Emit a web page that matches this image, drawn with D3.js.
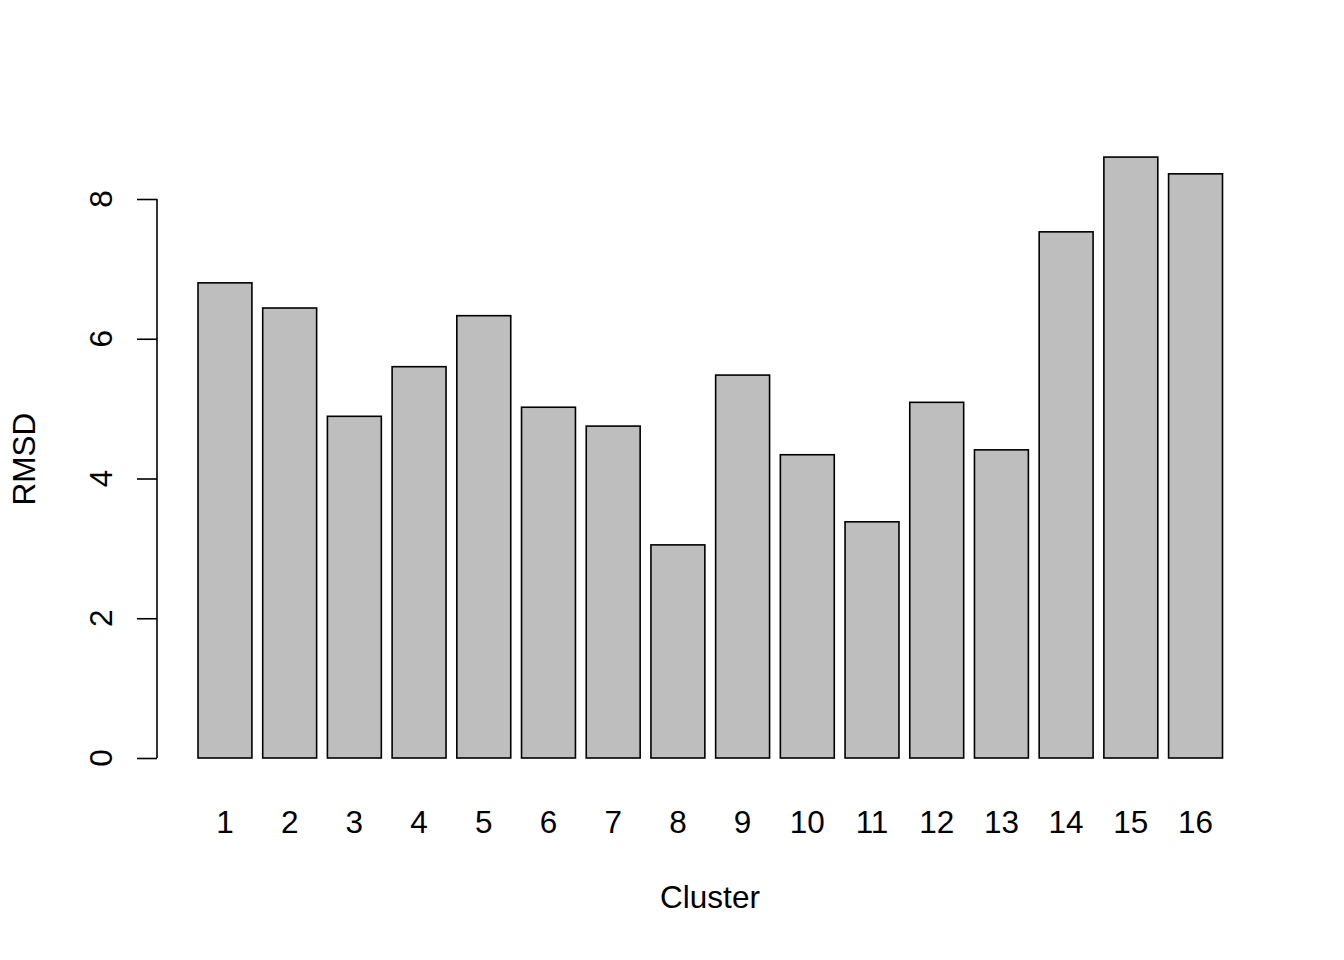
<!DOCTYPE html>
<html><head><meta charset="utf-8">
<script src="https://cdn.jsdelivr.net/npm/d3@7"></script>
<style>body{margin:0;background:#fff}svg{display:block}text{font-family:"Liberation Sans",Arial,sans-serif;fill:#000}</style>
</head><body>
<script>
const categories = ["1","2","3","4","5","6","7","8","9","10","11","12","13","14","15","16"];
const rmsd = [6.80, 6.44, 4.89, 5.60, 6.33, 5.02, 4.75, 3.05, 5.48, 4.34, 3.38, 5.09, 4.41, 7.53, 8.60, 8.36];
const yTicks = [0, 2, 4, 6, 8];
const xLabel = "Cluster";
const yLabel = "RMSD";

const W = 1344, H = 960, fs = 31.5;
const svg = d3.select("body").append("svg").attr("width", W).attr("height", H);

// bar layout in R units: width 1, space 0.2
const x = d3.scaleLinear().domain([0.2, 19.2]).range([198, 1222.5]);
const y = d3.scaleLinear().domain([0, 8]).range([758, 199]);
const axisX = 157;

svg.append("g").selectAll("rect").data(rmsd).join("rect")
  .attr("x", (d, i) => x(0.2 + i * 1.2))
  .attr("width", x(1) - x(0))
  .attr("y", d => y(d))
  .attr("height", d => y(0) - y(d))
  .attr("fill", "#bebebe").attr("stroke", "#000").attr("stroke-width", 1.6);

// x labels
svg.append("g").selectAll("text").data(categories).join("text")
  .attr("x", (d, i) => x(0.2 + i * 1.2 + 0.5))
  .attr("y", 833)
  .attr("text-anchor", "middle").attr("font-size", fs).text(d => d);

// y axis
const yAxis = d3.axisLeft(y).tickValues(yTicks).tickSize(20).tickPadding(0).tickFormat(d3.format("d"));
const g = svg.append("g").attr("transform", `translate(${axisX},0)`).call(yAxis);
g.select(".domain").attr("d", `M0,${y(0)}V${y(8)}`).attr("stroke", "#000").attr("stroke-width", 1.6);
g.selectAll(".tick line").attr("stroke", "#000").attr("stroke-width", 1.6);
g.selectAll(".tick text").remove();
svg.append("g").selectAll("text").data(yTicks).join("text")
  .attr("transform", d => `translate(112,${y(d)}) rotate(-90)`)
  .attr("text-anchor", "middle").attr("font-size", fs).text(d => d);

svg.append("text").attr("x", 710).attr("y", 908).attr("text-anchor", "middle").attr("font-size", fs).text(xLabel);
svg.append("text").attr("transform", `translate(35,459) rotate(-90)`).attr("text-anchor", "middle").attr("font-size", fs).text(yLabel);
</script>
</body></html>
